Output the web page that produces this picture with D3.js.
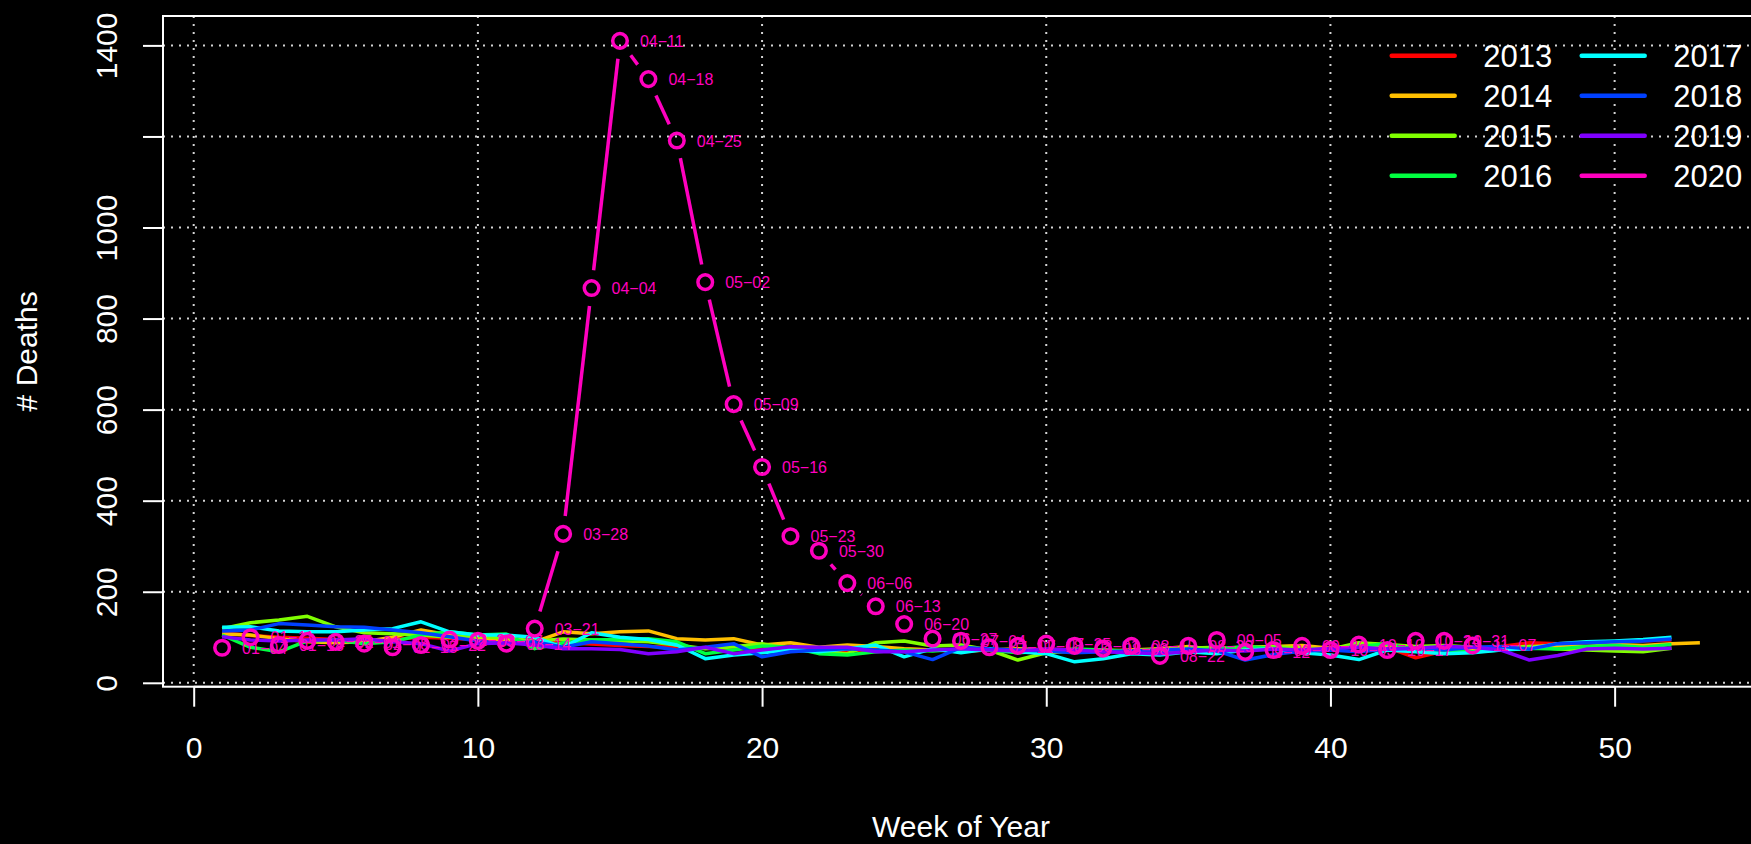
<!DOCTYPE html>
<html>
<head>
<meta charset="utf-8">
<script src="https://cdn.jsdelivr.net/npm/d3@7"></script>
<style>
body { margin: 0; background: #000; }
text { font-family: "Liberation Sans", Arial, sans-serif; fill: #fff; }
</style>
</head>
<body>
<div id="chart"></div>
<script>
var years = ['2013', '2014', '2015', '2016', '2017', '2018', '2019', '2020'];
var colors = ['#FF0000', '#FFBF00', '#80FF00', '#00FF40', '#00FFFF', '#0040FF', '#8000FF', '#FF00BF'];

var d2013 = [110,104,100,98,95,92,95,100,98,95,92,90,88,85,82,80,78,76,75,74,72,73,70,72,74,72,70,72,70,74,72,70,72,70,72,75,74,76,74,78,80,78,55,70,75,80,88,86,88,90,92,94];
var d2014 = [107,105,97,90,88,90,100,116,105,97,94,90,112,108,112,114,97,94,97,83,88,78,83,80,75,72,70,72,75,72,70,68,72,75,80,72,78,80,82,76,80,78,72,70,75,72,80,82,80,84,82,86,88];
var d2015 = [119,132,138,146,123,110,108,105,100,102,98,92,96,94,92,90,83,75,79,86,75,68,64,88,92,81,83,72,50,66,70,72,70,74,76,78,72,80,76,74,88,84,80,82,78,76,80,74,72,70,68,76];
var d2016 = [105,78,68,92,94,86,90,105,112,105,107,75,88,94,95,97,90,64,72,81,78,64,61,68,72,70,74,72,66,70,74,72,68,70,72,74,80,76,70,74,80,86,72,70,68,72,76,74,80,82,78,84];
var d2017 = [122,123,114,112,112,116,119,134,112,105,105,100,78,110,100,95,83,53,61,66,72,68,75,83,57,75,66,75,68,64,46,53,64,61,68,64,72,75,66,61,51,72,68,64,66,72,75,86,90,92,95,100];
var d2018 = [114,116,130,127,123,122,116,110,101,92,86,90,78,90,86,81,72,78,86,57,68,72,75,72,68,51,78,74,72,70,66,68,70,72,74,70,50,62,70,72,68,74,76,72,78,80,74,86,88,90,92,96];
var d2019 = [101,94,92,94,94,97,90,86,70,86,88,83,75,75,73,64,68,78,64,72,79,78,78,68,68,72,75,72,70,74,72,68,66,64,68,72,70,74,72,76,78,74,76,80,78,72,50,60,74,76,74,76];
var d2020 = [77,100,83,92,90,86,78,83,95,92,86,119,327,867,1410,1326,1191,880,612,474,322,290,219,168,129,97,92,78,81,86,81,75,81,59,81,94,68,72,81,72,84,72,92,92,82];

var labels2020 = ['01-04','01-11','01-18','01-25','02-01','02-08','02-15','02-22','02-29','03-07',
    '03-14','03-21','03-28','04-04','04-11','04-18','04-25','05-02','05-09','05-16',
    '05-23','05-30','06-06','06-13','06-20','06-27','07-04','07-11','07-18','07-25',
    '08-01','08-08','08-15','08-22','08-29','09-05','09-12','09-19','09-26','10-03',
    '10-10','10-17','10-24','10-31','11-07'];

var xTicks = [0, 10, 20, 30, 40, 50];
var yTicks = [0, 200, 400, 600, 800, 1000, 1200, 1400];
var yTickLabels = ['0', '200', '400', '600', '800', '1000', '', '1400'];

var series = [d2013, d2014, d2015, d2016, d2017, d2018, d2019];

var outerWidth = 1751;
var outerHeight = 844;
var box = { left: 163, right: 1759, top: 16, bottom: 686.7 };

var svg = d3.select('#chart').append('svg')
    .attr('width', outerWidth)
    .attr('height', outerHeight)
    .style('background', '#000');

// R style range: data extent padded by 4% on each side
var allVals = [].concat(d2013, d2014, d2015, d2016, d2017, d2018, d2019, d2020);
var yMin = d3.min(allVals), yMax = d3.max(allVals);
var xMin = 1, xMax = d3.max(series.concat([d2020]), function (s) { return s.length; });
var xPad = (xMax - xMin) * 0.04, yPad = (yMax - yMin) * 0.04;

var xScale = d3.scaleLinear().domain([xMin - xPad, xMax + xPad]).range([box.left, box.right]);
var yScale = d3.scaleLinear().domain([yMin - yPad, yMax + yPad]).range([box.bottom, box.top]);

// grid
var grid = svg.append('g')
    .attr('stroke', '#D3D3D3')
    .attr('stroke-width', 2)
    .attr('stroke-dasharray', '2,6');
grid.selectAll('.vg').data(xTicks).enter().append('line')
    .attr('x1', function (d) { return xScale(d); })
    .attr('x2', function (d) { return xScale(d); })
    .attr('y1', box.top)
    .attr('y2', box.bottom);
grid.selectAll('.hg').data(yTicks).enter().append('line')
    .attr('x1', box.left)
    .attr('x2', box.right)
    .attr('y1', function (d) { return yScale(d); })
    .attr('y2', function (d) { return yScale(d); });

// axes
var xAxis = d3.axisBottom(xScale).tickValues(xTicks).tickSize(20).tickPadding(30).tickSizeOuter(0);
var yAxis = d3.axisLeft(yScale).tickValues(yTicks).tickSize(20).tickSizeOuter(0)
    .tickFormat(function (d, i) { return yTickLabels[i]; });

var xAxisG = svg.append('g')
    .attr('transform', 'translate(0,' + box.bottom + ')')
    .call(xAxis);
xAxisG.select('.domain').remove();
xAxisG.append('line')
    .attr('x1', xScale(xTicks[0])).attr('x2', xScale(xTicks[xTicks.length - 1]))
    .attr('stroke', '#fff').attr('stroke-width', 2);
xAxisG.selectAll('line').attr('stroke', '#fff').attr('stroke-width', 2);
xAxisG.selectAll('text')
    .attr('y', 71)
    .attr('dy', 0)
    .style('font-size', '30px')
    .style('font-family', '"Liberation Sans", Arial, sans-serif')
    .attr('fill', '#fff');

var yAxisG = svg.append('g')
    .attr('transform', 'translate(' + box.left + ',0)')
    .call(yAxis);
yAxisG.select('.domain').remove();
yAxisG.selectAll('line').attr('stroke', '#fff').attr('stroke-width', 2);
yAxisG.selectAll('text')
    .attr('x', 0).attr('dy', 0)
    .attr('transform', 'translate(-46,0) rotate(-90)')
    .attr('text-anchor', 'middle')
    .style('font-size', '30px')
    .style('font-family', '"Liberation Sans", Arial, sans-serif')
    .attr('fill', '#fff');

svg.append('text')
    .attr('x', (box.left + box.right) / 2)
    .attr('y', 837)
    .attr('text-anchor', 'middle')
    .style('font-size', '30px')
    .text('Week of Year');

svg.append('text')
    .attr('transform', 'translate(37,' + ((box.top + box.bottom) / 2) + ') rotate(-90)')
    .attr('text-anchor', 'middle')
    .style('font-size', '30px')
    .text('# Deaths');

// lines for 2013 - 2019
var line = d3.line()
    .x(function (d, i) { return xScale(i + 1); })
    .y(function (d) { return yScale(d); });

var plot = svg.append('g');
series.forEach(function (s, k) {
    plot.append('path')
        .attr('fill', 'none')
        .attr('stroke', colors[k])
        .attr('stroke-width', 3.5)
        .attr('stroke-linejoin', 'round')
        .attr('d', line(s));
});

// 2020: type "b" -> points joined by segments with gaps around each point
var gap = 18;
var pts = d2020.map(function (v, i) { return [xScale(i + 1), yScale(v)]; });
for (var i = 0; i < pts.length - 1; i++) {
    var dx = pts[i + 1][0] - pts[i][0], dy = pts[i + 1][1] - pts[i][1];
    var dist = Math.sqrt(dx * dx + dy * dy);
    if (dist <= 2 * gap) continue;
    var ux = dx / dist, uy = dy / dist;
    plot.append('line')
        .attr('x1', pts[i][0] + ux * gap).attr('y1', pts[i][1] + uy * gap)
        .attr('x2', pts[i + 1][0] - ux * gap).attr('y2', pts[i + 1][1] - uy * gap)
        .attr('stroke', colors[7])
        .attr('stroke-width', 3.5);
}
plot.selectAll('.pt').data(d2020).enter().append('circle')
    .attr('cx', function (d, i) { return xScale(i + 1); })
    .attr('cy', function (d) { return yScale(d); })
    .attr('r', 7.3)
    .attr('fill', 'none')
    .attr('stroke', colors[7])
    .attr('stroke-width', 3.5);
plot.selectAll('.lbl').data(d2020).enter().append('text')
    .attr('x', function (d, i) { return xScale(i + 1) + 20; })
    .attr('y', function (d) { return yScale(d) + 6; })
    .style('font-size', '16px')
    .style('fill', colors[7])
    .text(function (d, i) { return labels2020[i].replace('-', '\u2212'); });

// legend, two columns
var legend = svg.append('g');
years.forEach(function (y, k) {
    var col = Math.floor(k / 4), row = k % 4;
    var lx = 1391.7 + col * 190, ly = 55.7 + row * 40;
    legend.append('line')
        .attr('x1', lx).attr('x2', lx + 63)
        .attr('y1', ly).attr('y2', ly)
        .attr('stroke', colors[k])
        .attr('stroke-width', 4.5)
        .attr('stroke-linecap', 'round');
    legend.append('text')
        .attr('x', lx + 91.6)
        .attr('y', ly + 11)
        .style('font-size', '31px')
        .text(y);
});

// box
svg.append('rect')
    .attr('x', box.left).attr('y', box.top)
    .attr('width', box.right - box.left)
    .attr('height', box.bottom - box.top)
    .attr('fill', 'none')
    .attr('stroke', '#fff')
    .attr('stroke-width', 2);
</script>
</body>
</html>
